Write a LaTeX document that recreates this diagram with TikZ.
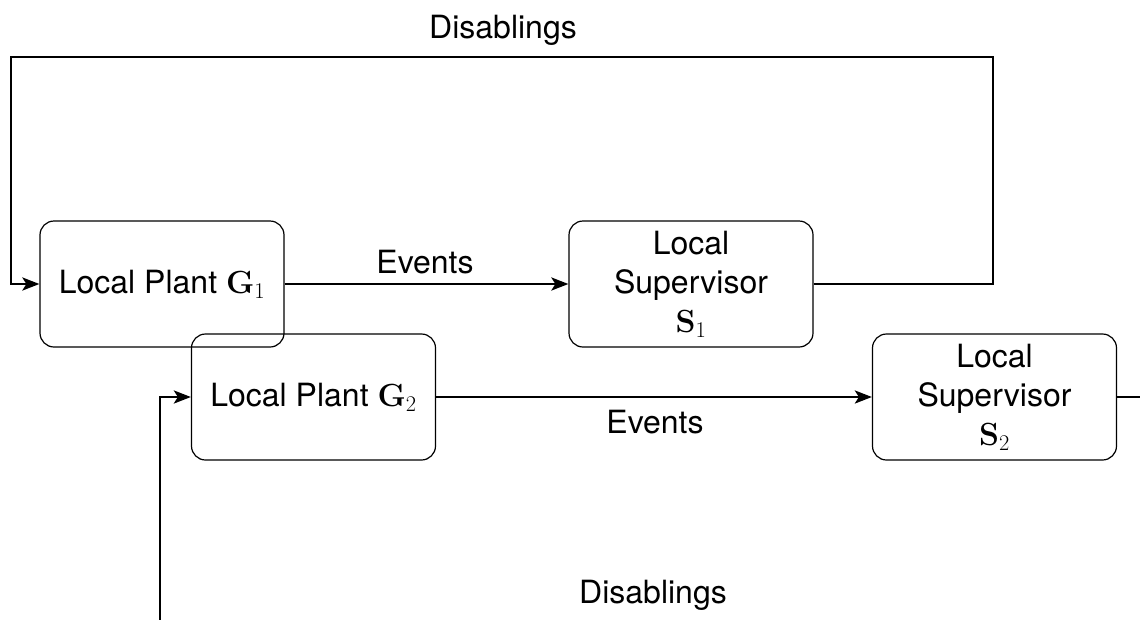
\documentclass[tikz,border=0pt]{standalone}
\usepackage{fix-cm}
\usepackage[no-math]{fontspec}
\setmainfont{TeX Gyre Heros}
\usetikzlibrary{arrows.meta}
\tikzset{
  blk/.style={draw, line width=1.2pt, rounded corners=14pt, minimum width=244pt,
    minimum height=126pt, align=center, inner sep=0pt},
  conn/.style={line width=2.8pt, -{Stealth[length=17pt,width=13pt,inset=4pt]}},
  wire/.style={line width=2.8pt},
  lbl/.style={inner sep=0pt}
}
\begin{document}
\begin{tikzpicture}[x=1pt, y=-1pt, font=\fontsize{32}{39}\selectfont]
\useasboundingbox (0,0) rectangle (1140,619);
\clip (0,0) rectangle (1140,619);

% blocks
\node[blk] (g1) at (162,284) {Local Plant $\mathbf{G}_1$};
\node[blk] (s1) at (691,284) {Local\\Supervisor\\$\mathbf{S}_1$};
\node[blk] (g2) at (313.5,397) {Local Plant $\mathbf{G}_2$};
\node[blk] (s2) at (994.5,397) {Local\\Supervisor\\$\mathbf{S}_2$};

% loop 1
\draw[conn] (g1.east) -- (s1.west);
\node[lbl] (ev1) at (425,262) {Events};
\coordinate (r1) at (993,57);
\coordinate (l1) at (11,57);
\draw[conn] (s1.east) -| (r1) -- (l1) |- (g1.west);
\node[lbl] (dis1) at (503,30) {Disablings};

% loop 2
\draw[conn] (g2.east) -- (s2.west);
\node[lbl] (ev2) at (655,422) {Events};
\coordinate (r2) at (1160,397);
\coordinate (b2) at (160,660);
\draw[wire] (s2.east) -- (r2);
\draw[conn] (b2) |- (g2.west);
\node[lbl] (dis2) at (653,595) {Disablings};
\end{tikzpicture}
\end{document}
